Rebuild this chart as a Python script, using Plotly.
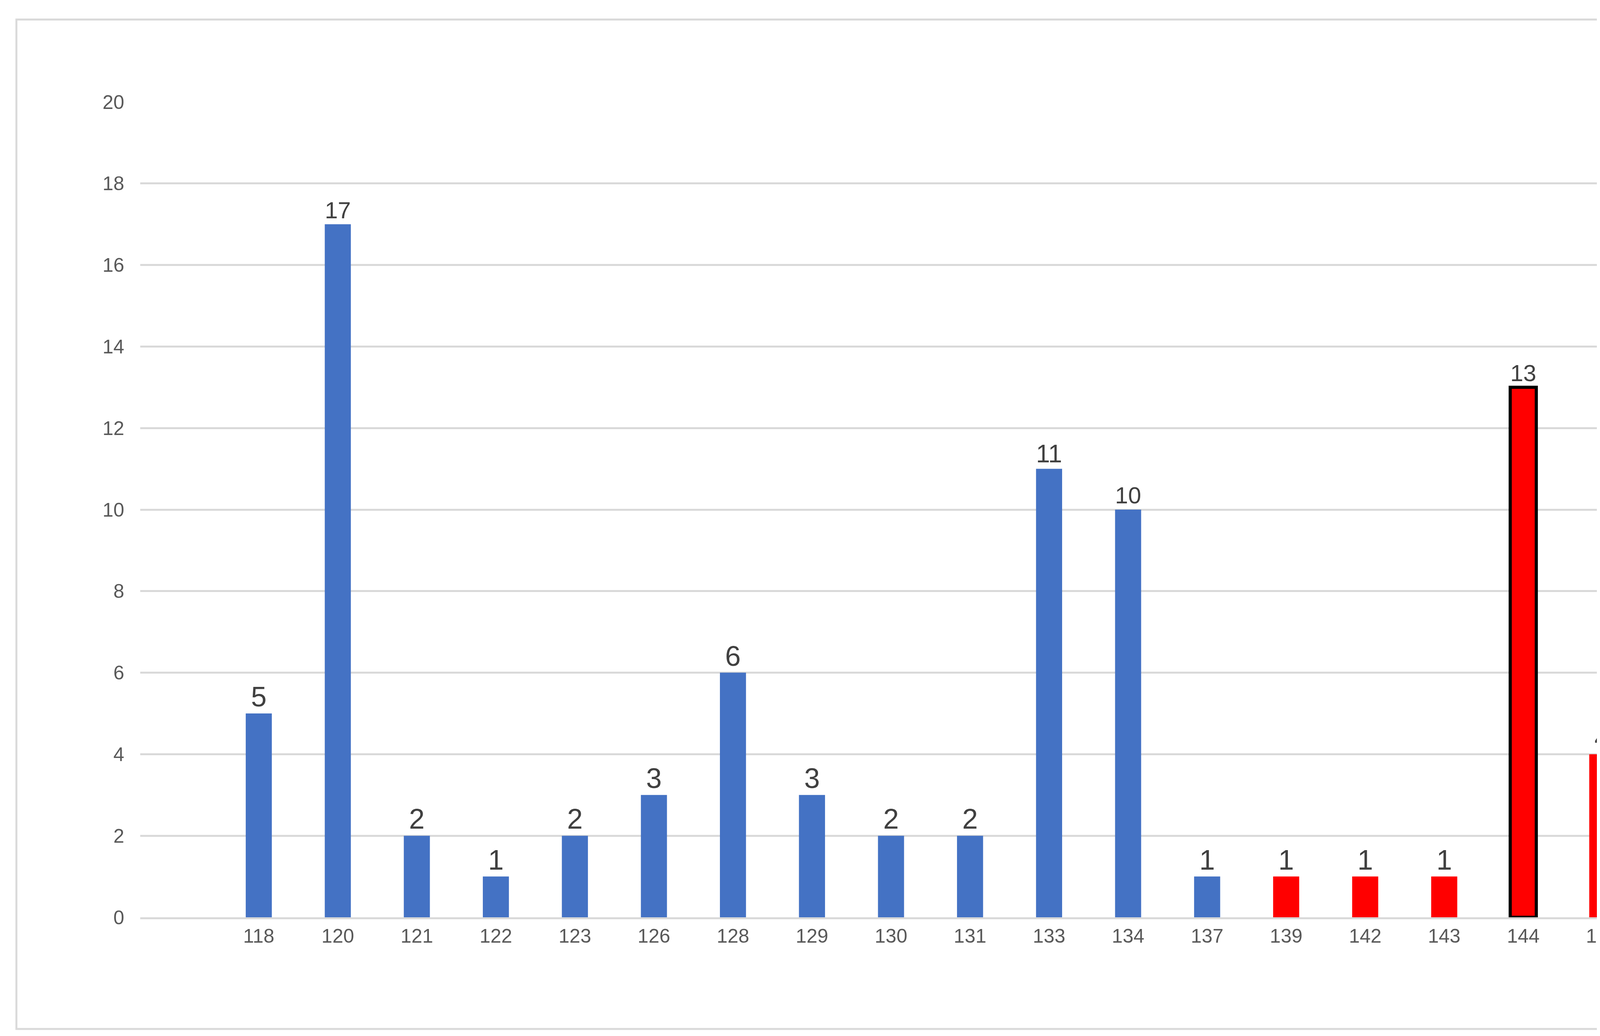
import plotly.graph_objects as go

categories = [" ", "118", "120", "121", "122", "123", "126", "128", "129", "130",
              "131", "133", "134", "137", "139", "142", "143", "144", "145"]
values = [None, 5, 17, 2, 1, 2, 3, 6, 3, 2, 2, 11, 10, 1, 1, 1, 1, 13, 4]
colors = ["#4472C4"] * 14 + ["#FF0000"] * 5
outline = [0] * 17 + [8, 0]

W, H = 4391, 2653
L, R, T, B = 351, 196, 253, 312

fig = go.Figure(go.Bar(
    x=categories, y=values,
    marker=dict(color=colors, line=dict(color="black", width=outline)),
    width=0.33,
    text=[("" if v is None else str(v)) for v in values],
    textposition="outside",
    textfont=dict(size=72, color="#404040"),
    cliponaxis=False,
))

pw, ph = W - L - R, H - T - B
def px(x): return (x - L) / pw
def py(y): return (H - B - y) / ph

fig.add_shape(type="rect", xref="paper", yref="paper",
              x0=px(34), x1=px(4361), y0=py(42), y1=py(2627),
              line=dict(color="#D9D9D9", width=5), layer="below")

fig.update_layout(
    width=W, height=H,
    margin=dict(l=L, r=R, t=T, b=B),
    plot_bgcolor="white", paper_bgcolor="white",
    font=dict(family="Liberation Sans", color="#595959", size=50),
    showlegend=False,
    xaxis=dict(type="category", showgrid=False, showline=True,
               linecolor="#D9D9D9", linewidth=5, ticks="", ticklen=0),
    yaxis=dict(range=[0, 20], dtick=2, gridcolor="#D9D9D9", gridwidth=5,
               zeroline=False, showline=False, ticks="outside",
               ticklen=30, tickcolor="white"),
)

fig.write_html("out.html")
